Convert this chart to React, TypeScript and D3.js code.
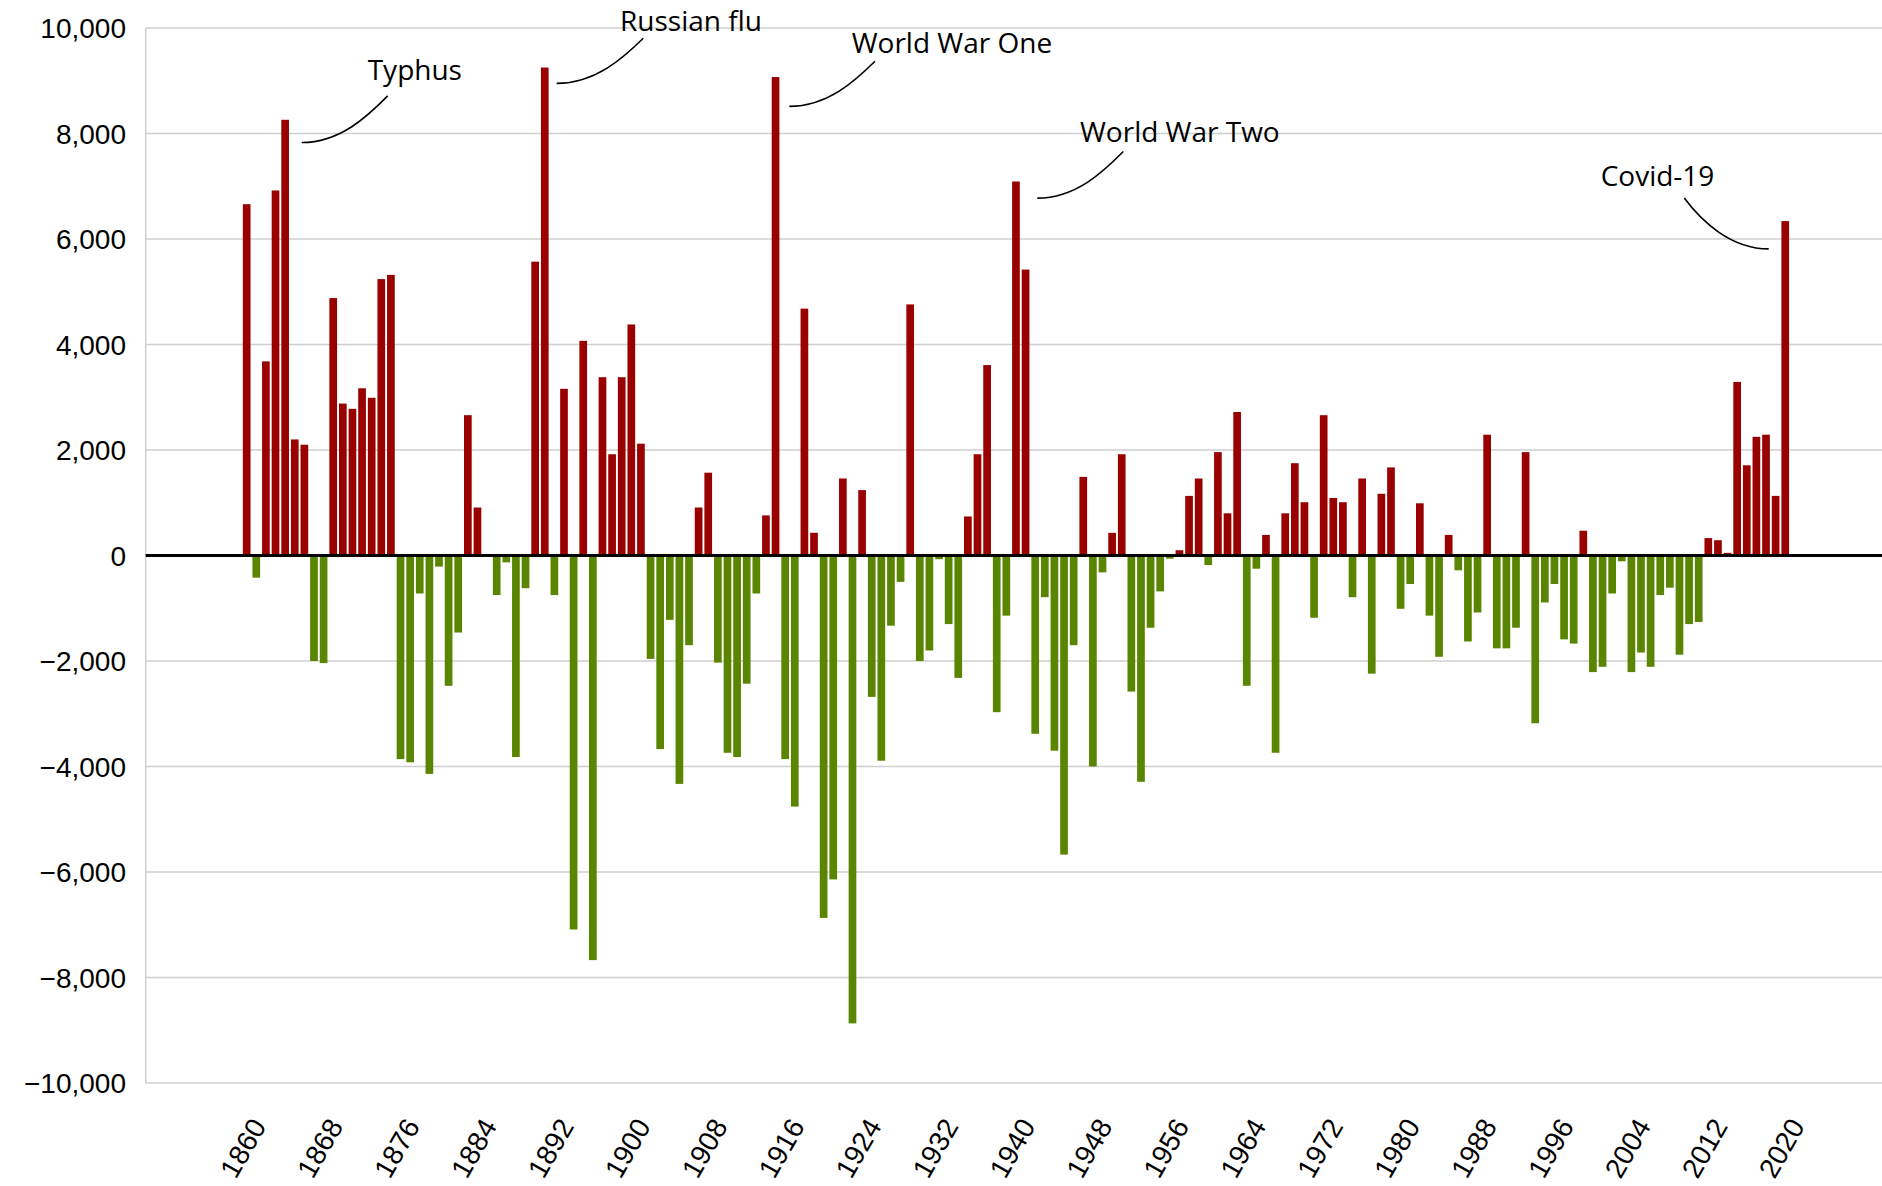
import React from "react";
import * as d3 from "d3";

const firstYear = 1860;
const values: number[] = [
  6660, -420, 3680, 6920, 8260, 2200, 2100, -2000, -2040, 4880,
  2880, 2780, 3170, 2990, 5240, 5320, -3860, -3920, -720, -4140,
  -210, -2470, -1460, 2660, 910, 0, -750, -130, -3820, -620,
  5570, 9250, -750, 3160, -7090, 4070, -7670, 3380, 1920, 3380,
  4380, 2120, -1960, -3670, -1220, -4330, -1700, 910, 1570, -2030,
  -3740, -3820, -2430, -720, 760, 9070, -3860, -4760, 4680, 430,
  -6870, -6140, 1460, -8870, 1240, -2680, -3890, -1330, -500, 4760,
  -2000, -1800, -70, -1300, -2320, 740, 1920, 3610, -2970, -1140,
  7090, 5420, -3380, -790, -3700, -5670, -1700, 1490, -4000, -320,
  430, 1920, -2580, -4290, -1370, -680, -60, 100, 1130, 1460,
  -180, 1960, 800, 2720, -2470, -250, 390, -3740, 800, 1750,
  1010, -1180, 2660, 1090, 1010, -790, 1460, -2240, 1170, 1670,
  -1010, -540, 990, -1140, -1920, 390, -280, -1630, -1080, 2290,
  -1760, -1760, -1370, 1960, -3180, -890, -540, -1590, -1670, 470,
  -2210, -2110, -720, -110, -2210, -1840, -2110, -750, -610, -1880,
  -1300, -1260, 330, 290, 50, 3290, 1710, 2250, 2290, 1130,
  6340,
];
const years: number[] = values.map((_, i) => firstYear + i);

const xTickYears: number[] = [
  1860, 1868, 1876, 1884, 1892, 1900, 1908, 1916, 1924, 1932, 1940,
  1948, 1956, 1964, 1972, 1980, 1988, 1996, 2004, 2012, 2020,
];
const yTicks: number[] = [-10000, -8000, -6000, -4000, -2000, 0, 2000, 4000, 6000, 8000, 10000];

const annotationLabels: string[] = ["Typhus", "Russian flu", "World War One", "World War Two", "Covid-19"];

// layout (pixels) for annotations
const annotationLayout = [
  { tx: 367.7, ty: 80, x0: 301.7, y0: 142.5, x1: 387.7, y1: 95.9, down: false },
  { tx: 620, ty: 31, x0: 556.7, y0: 83.4, x1: 643.3, y1: 38.2, down: false },
  { tx: 851.7, ty: 53, x0: 789.3, y0: 106.4, x1: 875, y1: 61.2, down: false },
  { tx: 1080, ty: 142, x0: 1037.3, y0: 198.1, x1: 1123.3, y1: 151.5, down: false },
  { tx: 1600.7, ty: 186, x0: 1684.3, y0: 198.1, x1: 1768.7, y1: 248.9, down: true },
];

const W = 1882;
const H = 1186;
const plotLeft = 145.7;
const plotRight = 1876.6;
const gridRight = 1882;
const plotTop = 28;
const plotBottom = 1083;

const RED = "#990000";
const GREEN = "#5a8500";

export default function App() {
  const x = d3
    .scaleBand<number>()
    .domain(d3.range(years[0] - 10, years[years.length - 1] + 10))
    .range([plotLeft, plotRight])
    .paddingInner(0.2)
    .paddingOuter(0.1);
  const y = d3.scaleLinear().domain([-10000, 10000]).range([plotBottom, plotTop]);
  const fmt = d3.format(",");
  const xc = (yr: number) => (x(yr) as number) + x.bandwidth() / 2;

  const curve = (a: typeof annotationLayout[number]) => {
    const dx = a.x1 - a.x0;
    const dy = Math.abs(a.y1 - a.y0);
    const p = d3.path();
    p.moveTo(a.x0, a.y0);
    if (!a.down) {
      p.bezierCurveTo(a.x0 + 0.45 * dx, a.y0, a.x1 - 0.23 * dx, a.y1 + 0.43 * dy, a.x1, a.y1);
    } else {
      p.bezierCurveTo(a.x0 + 0.2 * dx, a.y0 + 0.45 * dy, a.x1 - 0.45 * dx, a.y1, a.x1, a.y1);
    }
    return p.toString();
  };

  return (
    <div style={{ position: "absolute", left: 0, top: 0 }}>
      <svg width={W} height={H} style={{ display: "block", background: "#fff" }}>
        <rect x={0} y={0} width={W} height={H} fill="#fff" />
        {/* gridlines */}
        {yTicks.map((t) => (
          <line
            key={"g" + t}
            x1={plotLeft}
            x2={gridRight}
            y1={y(t)}
            y2={y(t)}
            stroke="#cfcfcf"
            strokeWidth={1.5}
          />
        ))}
        <line x1={plotLeft} x2={plotLeft} y1={plotTop} y2={plotBottom} stroke="#cfcfcf" strokeWidth={1.5} />
        {/* y labels */}
        {yTicks.map((t) => (
          <text
            key={"yl" + t}
            x={126}
            y={y(t)}
            dy="0.36em"
            textAnchor="end"
            fontFamily="'Liberation Sans', Arial, sans-serif"
            fontSize={28}
            fill="#000"
          >
            {fmt(t)}
          </text>
        ))}
        {/* bars */}
        {years.map((yr, i) => {
          const v = values[i];
          if (v === 0) return null;
          const y0 = y(Math.max(0, v));
          const y1 = y(Math.min(0, v));
          return (
            <rect
              key={"b" + yr}
              x={x(yr) as number}
              width={x.bandwidth()}
              y={y0}
              height={y1 - y0}
              fill={v > 0 ? RED : GREEN}
            />
          );
        })}
        {/* zero line */}
        <line x1={plotLeft} x2={gridRight} y1={y(0)} y2={y(0)} stroke="#000" strokeWidth={3} />
        {/* x labels */}
        {xTickYears.map((yr) => (
          <text
            key={"xl" + yr}
            transform={`translate(${xc(yr) - 4},${1148}) rotate(-60)`}
            dy="0.36em"
            textAnchor="middle"
            fontFamily="'Liberation Sans', Arial, sans-serif"
            fontSize={28}
            fill="#000"
          >
            {yr}
          </text>
        ))}
        {/* annotations */}
        {annotationLabels.map((label, i) => {
          const a = annotationLayout[i];
          return (
            <g key={"a" + i}>
              <path d={curve(a)} fill="none" stroke="#000" strokeWidth={1.6} />
              <text
                x={a.tx}
                y={a.ty}
                fontFamily="'Open Sans', 'Noto Sans', sans-serif"
                fontSize={28}
                fill="#000"
              >
                {label}
              </text>
            </g>
          );
        })}
      </svg>
    </div>
  );
}
